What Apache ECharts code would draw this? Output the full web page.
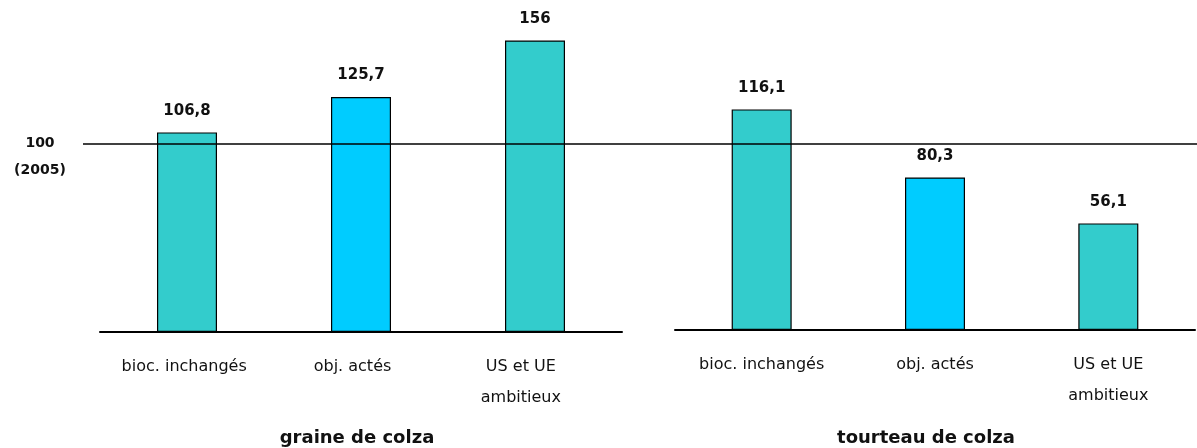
<!DOCTYPE html>
<html>
<head>
<meta charset="utf-8">
<script src="https://cdn.jsdelivr.net/npm/echarts@6/dist/echarts.min.js"></script>
<style>
  html, body { margin: 0; padding: 0; background: #fff; }
  #chart { width: 1197px; height: 448px; }
</style>
</head>
<body>
<div id="chart"></div>
<script>
// Scenario categories shared by both panels
const categories = ['bioc. inchangés', 'obj. actés', 'US et UE\nambitieux'];
// Index values (2005 = 100)
const graineValues = [106.8, 125.7, 156];
const tourteauValues = [116.1, 80.3, 56.1];
const panelTitles = ['graine de colza', 'tourteau de colza'];
const referenceValue = 100;
const referenceLabel = ['100', '(2005)'];
const barColors = ['#33CCCC', '#00CCFF', '#33CCCC'];

const FONT = 'DejaVu Sans';

function frNumber(v) {
  return String(v).replace('.', ',');
}

function barSeries(values, axisIndex) {
  return {
    type: 'bar',
    xAxisIndex: axisIndex,
    yAxisIndex: axisIndex,
    barWidth: 60,
    data: values.map((v, i) => ({
      value: v,
      itemStyle: { color: barColors[i], borderColor: '#000', borderWidth: 1.2 }
    })),
    label: {
      show: true,
      position: 'top',
      distance: 14,
      formatter: p => frNumber(p.value),
      fontFamily: FONT,
      fontWeight: 'bold',
      fontSize: 15,
      color: '#111'
    },
    emphasis: { disabled: true },
    z: 2
  };
}

const hiddenValueAxis = (gridIndex, max) => ({
  type: 'value', gridIndex, min: 0, max,
  axisLine: { show: false }, axisTick: { show: false },
  axisLabel: { show: false }, splitLine: { show: false }
});

const categoryLabelStyle = {
  fontFamily: FONT, fontSize: 16, color: '#111',
  lineHeight: 31, margin: 19, interval: 0, align: 'center'
};

const chart = echarts.init(document.getElementById('chart'), null, { renderer: 'canvas' });

chart.setOption({
  animation: false,
  backgroundColor: '#fff',
  title: [
    { text: panelTitles[0], left: 352, top: 424, textAlign: 'center',
      textStyle: { fontFamily: FONT, fontWeight: 'bold', fontSize: 18, color: '#111' } },
    { text: panelTitles[1], left: 921, top: 424, textAlign: 'center',
      textStyle: { fontFamily: FONT, fontWeight: 'bold', fontSize: 18, color: '#111' } }
  ],
  grid: [
    // left panel bars
    { left: 100, width: 522, top: 33, height: 299 },
    // right panel bars
    { left: 675, width: 520, top: 26, height: 304 },
    // left panel category labels
    { left: 100, width: 505, top: 33, height: 299 },
    // reference line across the full width
    { left: 83, right: 0, top: 143.5, height: 188.5 }
  ],
  xAxis: [
    { type: 'category', gridIndex: 0, data: categories,
      axisLine: { lineStyle: { color: '#000', width: 2 } },
      axisTick: { show: false }, axisLabel: { show: false } },
    { type: 'category', gridIndex: 1, data: categories,
      axisLine: { lineStyle: { color: '#000', width: 2 } },
      axisTick: { show: false }, axisLabel: categoryLabelStyle },
    { type: 'category', gridIndex: 2, data: categories,
      axisLine: { show: false }, axisTick: { show: false },
      axisLabel: categoryLabelStyle },
    { type: 'value', gridIndex: 3, show: false, min: 0, max: 1 }
  ],
  yAxis: [
    hiddenValueAxis(0, 160),
    hiddenValueAxis(1, 160),
    hiddenValueAxis(2, 1),
    {
      type: 'value', gridIndex: 3, min: 0, max: referenceValue, interval: referenceValue,
      z: 10,
      axisLine: { show: false }, axisTick: { show: false },
      splitLine: { show: true, lineStyle: { color: ['transparent', '#000'], width: 1.6 } },
      axisLabel: {
        formatter: v => v === referenceValue ? ' \n' + referenceLabel.join('\n') : '',
        fontFamily: FONT, fontWeight: 'bold', fontSize: 14, color: '#111',
        lineHeight: 27, align: 'center', margin: 43
      }
    }
  ],
  series: [
    barSeries(graineValues, 0),
    barSeries(tourteauValues, 1)
  ]
});
</script>
</body>
</html>
